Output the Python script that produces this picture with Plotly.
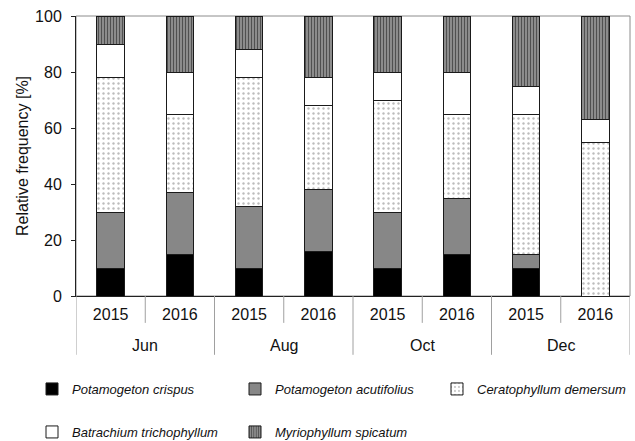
import plotly.graph_objects as go

months = ["Jun", "Aug", "Oct", "Dec"]
years = ["2015", "2016"]

crispus = [10, 15, 10, 16, 10, 15, 10, 0]
acutifolius = [20, 22, 22, 22, 20, 20, 5, 0]
ceratophyllum = [48, 28, 46, 30, 40, 30, 50, 55]
batrachium = [12, 15, 10, 10, 10, 15, 10, 8]
myriophyllum = [10, 20, 12, 22, 20, 20, 25, 37]

series_names = ["Potamogeton crispus", "Potamogeton acutifolius", "Ceratophyllum demersum",
                "Batrachium trichophyllum", "Myriophyllum spicatum"]

n = len(months) * len(years)
xpos = list(range(n))
inner_labels = [y for m in months for y in years]

FONT = "Liberation Sans, Arial, sans-serif"

fig = go.Figure()

def add_bar(vals, name, legend, color, pattern=None):
    marker = dict(color=color, line=dict(color="#1a1a1a", width=1))
    if pattern:
        marker["pattern"] = pattern
    fig.add_trace(go.Bar(x=xpos, y=vals, name=name, width=0.4, marker=marker,
                         legend=legend))

add_bar(crispus, series_names[0], "legend", "#000000")
add_bar(acutifolius, series_names[1], "legend2", "#878787")
add_bar(ceratophyllum, series_names[2], "legend3", "#ffffff",
        dict(shape=".", fgcolor="#7a7a7a", bgcolor="#ffffff", size=5, solidity=0.18, fillmode="overlay"))
add_bar(batrachium, series_names[3], "legend4", "#ffffff")
add_bar(myriophyllum, series_names[4], "legend5", "#999999",
        dict(shape="|", fgcolor="#000000", bgcolor="#a0a0a0", size=3, solidity=0.5, fillmode="overlay"))

shapes = []
# plot border top/right
shapes.append(dict(type="rect", xref="paper", yref="paper", x0=0, x1=1, y0=0, y1=1,
                   line=dict(color="#8c8c8c", width=1), layer="below"))
# inner dividers between years
for g in range(len(months)):
    xm = g * len(years) + 0.5
    shapes.append(dict(type="line", xref="x", yref="paper", x0=xm, x1=xm, y0=0, y1=-0.096,
                       line=dict(color="#a0a0a0", width=1)))
# outer dividers between months
for g in range(len(months) + 1):
    xb = g * len(years) - 0.5
    shapes.append(dict(type="line", xref="x", yref="paper", x0=xb, x1=xb, y0=0, y1=-0.21,
                       line=dict(color="#a0a0a0", width=1)))

annotations = []
for g, m in enumerate(months):
    annotations.append(dict(text=m, xref="x", yref="paper", x=g * len(years) + 0.5, y=-0.175,
                            showarrow=False, yanchor="middle", xanchor="center",
                            font=dict(family=FONT, size=16, color="#111111")))

legend_font = dict(family=FONT, size=13, style="italic", color="#111111")

def legend_box(text_x, top_y):
    return dict(orientation="h", xref="container", yref="container",
                x=(text_x - 40) / 635, y=1 - top_y / 441,
                xanchor="left", yanchor="top", font=legend_font,
                bgcolor="rgba(0,0,0,0)")

fig.update_layout(
    width=635, height=441,
    margin=dict(l=76, r=5, t=16, b=145),
    paper_bgcolor="white", plot_bgcolor="white",
    barmode="stack",
    font=dict(family=FONT, size=16, color="#111111"),
    xaxis=dict(range=[-0.5, n - 0.5], tickvals=xpos, ticktext=inner_labels,
               showline=True, linecolor="#222222", linewidth=1, showgrid=False, zeroline=False,
               ticks="outside", ticklen=4, tickcolor="rgba(0,0,0,0)",
               tickfont=dict(family=FONT, size=16, color="#111111")),
    yaxis=dict(range=[0, 100], dtick=20, showline=True, linecolor="#222222", linewidth=1,
               showgrid=False, zeroline=False, ticks="outside", ticklen=4, tickcolor="#222222",
               ticklabelstandoff=6,
               tickfont=dict(family=FONT, size=16, color="#111111"),
               title=dict(text="Relative frequency [%]", standoff=2,
                          font=dict(family=FONT, size=16, color="#111111"))),
    legend=legend_box(72, 374),
    legend2=legend_box(275, 374),
    legend3=legend_box(477, 374),
    legend4=legend_box(72, 417),
    legend5=legend_box(275, 417),
    shapes=shapes,
    annotations=annotations,
    showlegend=True,
)

fig.write_html("out.html", config={"displayModeBar": False},
               post_script="document.body.style.margin='0px';")
